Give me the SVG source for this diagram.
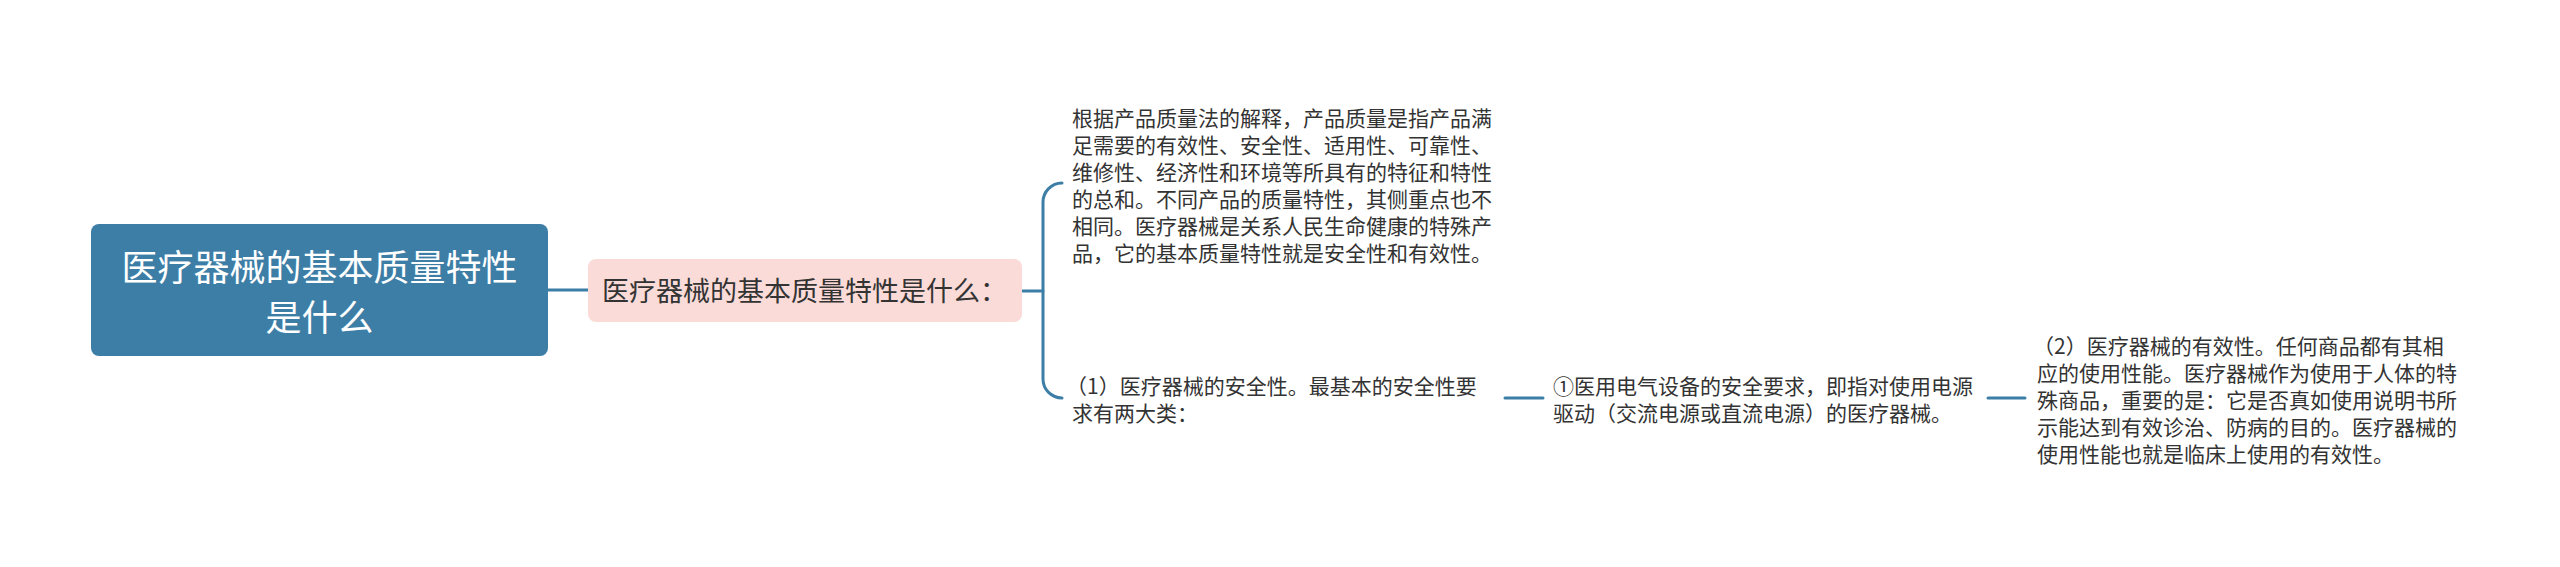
<svg xmlns="http://www.w3.org/2000/svg" width="2560" height="567" viewBox="0 0 2560 567">
<style>
.conn{fill:none;stroke:#3d7ea6;stroke-width:3;stroke-linecap:round}
.t{font-family:"Microsoft YaHei","Noto Sans CJK SC","Noto Sans",sans-serif;fill:#333}
.leaf{font-size:21px}
.w{fill:#ffffff}
</style>
<rect width="2560" height="567" fill="#ffffff"/>
<g id="connectors">
<path class="conn" d="M548,290 L588,290"/>
<path class="conn" d="M1022,291 L1043,291"/>
<path class="conn" d="M1062,183 A19,19 0 0 0 1043,202 L1043,379 A19,19 0 0 0 1062,398"/>
<path class="conn" d="M1505,398 L1543,398"/>
<path class="conn" d="M1988,398 L2025,398"/>
</g>
<g id="root">
<rect x="91" y="224" width="457" height="132" rx="8" fill="#3d7ea6"/>
<text class="t w" x="319.5" y="281" font-size="36" text-anchor="middle">医疗器械的基本质量特性</text>
<text class="t w" x="319.5" y="331" font-size="36" text-anchor="middle">是什么</text>
</g>
<g id="sub">
<rect x="588" y="259" width="434" height="63" rx="8" fill="#fadbd8"/>
<text class="t" x="602" y="301" font-size="27">医疗器械的基本质量特性是什么：</text>
</g>
<g id="leaf1">
<text class="t leaf" x="1072" y="126">根据产品质量法的解释，产品质量是指产品满</text>
<text class="t leaf" x="1072" y="153">足需要的有效性、安全性、适用性、可靠性、</text>
<text class="t leaf" x="1072" y="180">维修性、经济性和环境等所具有的特征和特性</text>
<text class="t leaf" x="1072" y="207">的总和。不同产品的质量特性，其侧重点也不</text>
<text class="t leaf" x="1072" y="234">相同。医疗器械是关系人民生命健康的特殊产</text>
<text class="t leaf" x="1072" y="261">品，它的基本质量特性就是安全性和有效性。</text>
</g>
<g id="leaf2">
<text class="t leaf" x="1066" y="394">（1）医疗器械的安全性。最基本的安全性要</text>
<text class="t leaf" x="1072" y="421">求有两大类：</text>
</g>
<g id="leaf3">
<text class="t leaf" x="1553" y="394">①医用电气设备的安全要求，即指对使用电源</text>
<text class="t leaf" x="1553" y="421">驱动（交流电源或直流电源）的医疗器械。</text>
</g>
<g id="leaf4">
<text class="t leaf" x="2033" y="354">（2）医疗器械的有效性。任何商品都有其相</text>
<text class="t leaf" x="2037" y="381">应的使用性能。医疗器械作为使用于人体的特</text>
<text class="t leaf" x="2037" y="408">殊商品，重要的是：它是否真如使用说明书所</text>
<text class="t leaf" x="2037" y="435">示能达到有效诊治、防病的目的。医疗器械的</text>
<text class="t leaf" x="2037" y="462">使用性能也就是临床上使用的有效性。</text>
</g>
</svg>
